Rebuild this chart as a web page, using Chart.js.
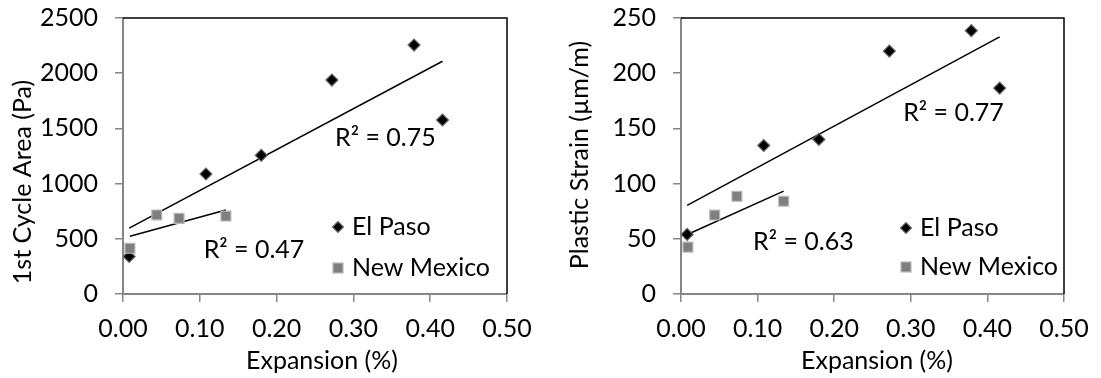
<!DOCTYPE html>
<html>
<head>
<meta charset="utf-8">
<script src="https://cdn.jsdelivr.net/npm/chart.js@4.4.0/dist/chart.umd.min.js"></script>
<style>
  body { margin: 0; background: #fff; }
  #wrap { position: relative; width: 1101px; height: 378px; }
  canvas { position: absolute; top: 0; }
</style>
</head>
<body>
<div id="wrap">
  <canvas id="areaChart" width="550" height="378" style="left:0"></canvas>
  <canvas id="strainChart" width="551" height="378" style="left:550px"></canvas>
</div>
<script>
// values
const seriesNames = ["El Paso", "New Mexico"];
const expansionElPaso = [0.008, 0.108, 0.180, 0.272, 0.379, 0.416];
const expansionNewMexico = [0.009, 0.044, 0.073, 0.134];
const areaElPaso = [340, 1087, 1256, 1938, 2255, 1576];
const areaNewMexico = [414, 716, 685, 706];
const strainElPaso = [54, 134.5, 140, 220, 238.5, 186.5];
const strainNewMexico = [42.5, 71.5, 88.5, 84];
const expansionTicks = ["0.00", "0.10", "0.20", "0.30", "0.40", "0.50"];
const areaTicks = ["0", "500", "1000", "1500", "2000", "2500"];
const strainTicks = ["0", "50", "100", "150", "200", "250"];
const areaR2 = ["R\u00b2 = 0.75", "R\u00b2 = 0.47"];
const strainR2 = ["R\u00b2 = 0.77", "R\u00b2 = 0.63"];

const FONT = "Lato";
const FONT_SIZE = 25;
const AXIS_GREY = "#868686";

function points(xs, ys) {
    return xs.map((x, i) => ({ x: x, y: ys[i] }));
}

// least squares line over the data range, like the excel trendline
function trend(xs, ys) {
    const n = xs.length;
    const mx = xs.reduce((a, b) => a + b, 0) / n;
    const my = ys.reduce((a, b) => a + b, 0) / n;
    let sxy = 0, sxx = 0;
    for (let i = 0; i < n; i++) {
        sxy += (xs[i] - mx) * (ys[i] - my);
        sxx += (xs[i] - mx) * (xs[i] - mx);
    }
    const slope = sxy / sxx;
    const icpt = my - slope * mx;
    const x0 = Math.min(...xs), x1 = Math.max(...xs);
    return [{ x: x0, y: icpt + slope * x0 }, { x: x1, y: icpt + slope * x1 }];
}

function diamond(ctx, x, y, r) {
    ctx.beginPath();
    ctx.moveTo(x - r, y);
    ctx.lineTo(x, y - r);
    ctx.lineTo(x + r, y);
    ctx.lineTo(x, y + r);
    ctx.closePath();
}

const decor = {
    id: "decor",
    afterDraw(chart, args, opts) {
        const ctx = chart.ctx;
        const a = chart.chartArea;
        const xs = chart.scales.x, ys = chart.scales.y;
        ctx.save();

        // top and right frame
        ctx.strokeStyle = "#000";
        ctx.lineWidth = 1.5;
        ctx.beginPath();
        ctx.moveTo(a.left, a.top);
        ctx.lineTo(a.right, a.top);
        ctx.lineTo(a.right, a.bottom);
        ctx.stroke();

        ctx.fillStyle = "#000";
        ctx.font = FONT_SIZE + "px " + FONT;
        ctx.textBaseline = "middle";

        // trendline labels
        ctx.textAlign = "left";
        opts.r2.forEach(l => {
            ctx.fillText(l.text, xs.getPixelForValue(l.x), ys.getPixelForValue(l.y));
        });

        // legend
        const lg = opts.legend;
        ctx.fillText(seriesNames[0], lg.x + 14, lg.y[0]);
        ctx.fillText(seriesNames[1], lg.x + 14, lg.y[1]);
        diamond(ctx, lg.x, lg.y[0], 5.5);
        ctx.fillStyle = "#000";
        ctx.fill();
        ctx.strokeStyle = "#666";
        ctx.lineWidth = 1.2;
        ctx.stroke();
        ctx.fillStyle = "#7f7f7f";
        ctx.fillRect(lg.x - 5, lg.y[1] - 5, 10, 10);
        ctx.strokeStyle = "#b8b8b8";
        ctx.strokeRect(lg.x - 5, lg.y[1] - 5, 10, 10);

        // axis titles
        ctx.fillStyle = "#000";
        ctx.textAlign = "center";
        ctx.fillText(opts.xTitle.text, opts.xTitle.x, opts.xTitle.y);
        ctx.translate(opts.yTitle.x, opts.yTitle.y);
        ctx.rotate(-Math.PI / 2);
        ctx.fillText(opts.yTitle.text, 0, 0);
        ctx.restore();
    }
};

function makeChart(id, yVals, yTicks, yMax, layout) {
    const epY = yVals[0], nmY = yVals[1];
    new Chart(document.getElementById(id), {
        type: "scatter",
        data: {
            datasets: [
                {
                    label: seriesNames[1],
                    data: points(expansionNewMexico, nmY),
                    pointStyle: "rect",
                    pointRadius: 7,
                    backgroundColor: "#7f7f7f",
                    borderColor: "#b8b8b8",
                    borderWidth: 1.2,
                    order: 0
                },
                {
                    label: seriesNames[0],
                    data: points(expansionElPaso, epY),
                    pointStyle: "rectRot",
                    pointRadius: 6,
                    backgroundColor: "#000",
                    borderColor: "#666",
                    borderWidth: 1.2,
                    order: 1
                },
                {
                    label: "trend " + seriesNames[0],
                    data: trend(expansionElPaso, epY),
                    showLine: true,
                    pointRadius: 0,
                    borderColor: "#000",
                    borderWidth: 1.5,
                    order: 2
                },
                {
                    label: "trend " + seriesNames[1],
                    data: trend(expansionNewMexico, nmY),
                    showLine: true,
                    pointRadius: 0,
                    borderColor: "#000",
                    borderWidth: 1.5,
                    order: 2
                }
            ]
        },
        options: {
            responsive: false,
            animation: false,
            devicePixelRatio: 1,
            layout: { padding: { left: 0, top: layout.top, right: layout.right, bottom: 0 } },
            plugins: {
                legend: { display: false },
                tooltip: { enabled: false },
                decor: layout.decor
            },
            scales: {
                x: {
                    type: "linear",
                    min: 0,
                    max: 0.5,
                    afterFit: s => {
                        s.height = 378 - layout.bottom;
                        s.paddingLeft = 0;
                        s.paddingRight = 0;
                    },
                    border: { color: AXIS_GREY, width: 2 },
                    grid: { drawOnChartArea: false, color: AXIS_GREY, lineWidth: 1.5, tickLength: 8 },
                    ticks: {
                        stepSize: 0.1,
                        color: "#000",
                        padding: 12,
                        maxRotation: 0,
                        font: { family: FONT, size: FONT_SIZE },
                        callback: (v, i) => expansionTicks[i]
                    }
                },
                y: {
                    min: 0,
                    max: yMax,
                    afterFit: s => {
                        s.width = layout.left;
                        s.paddingTop = 0;
                        s.paddingBottom = 0;
                    },
                    border: { color: AXIS_GREY, width: 2 },
                    grid: { drawOnChartArea: false, color: AXIS_GREY, lineWidth: 1.5, tickLength: 8 },
                    ticks: {
                        stepSize: yMax / 5,
                        color: "#000",
                        padding: 17,
                        font: { family: FONT, size: FONT_SIZE },
                        callback: (v, i) => yTicks[i]
                    }
                }
            }
        },
        plugins: [decor]
    });
}

makeChart("areaChart", [areaElPaso, areaNewMexico], areaTicks, 2500, {
    left: 123, top: 18, right: 43, bottom: 294,
    decor: {
        xTitle: { text: "Expansion (%)", x: 322, y: 361 },
        yTitle: { text: "1st Cycle Area (Pa)", x: 23, y: 182 },
        legend: { x: 338, y: [227, 268] },
        r2: [
            { text: areaR2[0], x: 0.276, y: 1413 },
            { text: areaR2[1], x: 0.105, y: 399 }
        ]
    }
});

makeChart("strainChart", [strainElPaso, strainNewMexico], strainTicks, 250, {
    left: 131, top: 18, right: 37, bottom: 294,
    decor: {
        xTitle: { text: "Expansion (%)", x: 327, y: 361 },
        yTitle: { text: "Plastic Strain (\u00b5m/m)", x: 30, y: 155 },
        legend: { x: 356, y: [228, 267] },
        r2: [
            { text: strainR2[0], x: 0.290, y: 164 },
            { text: strainR2[1], x: 0.094, y: 47.4 }
        ]
    }
});
</script>
</body>
</html>
